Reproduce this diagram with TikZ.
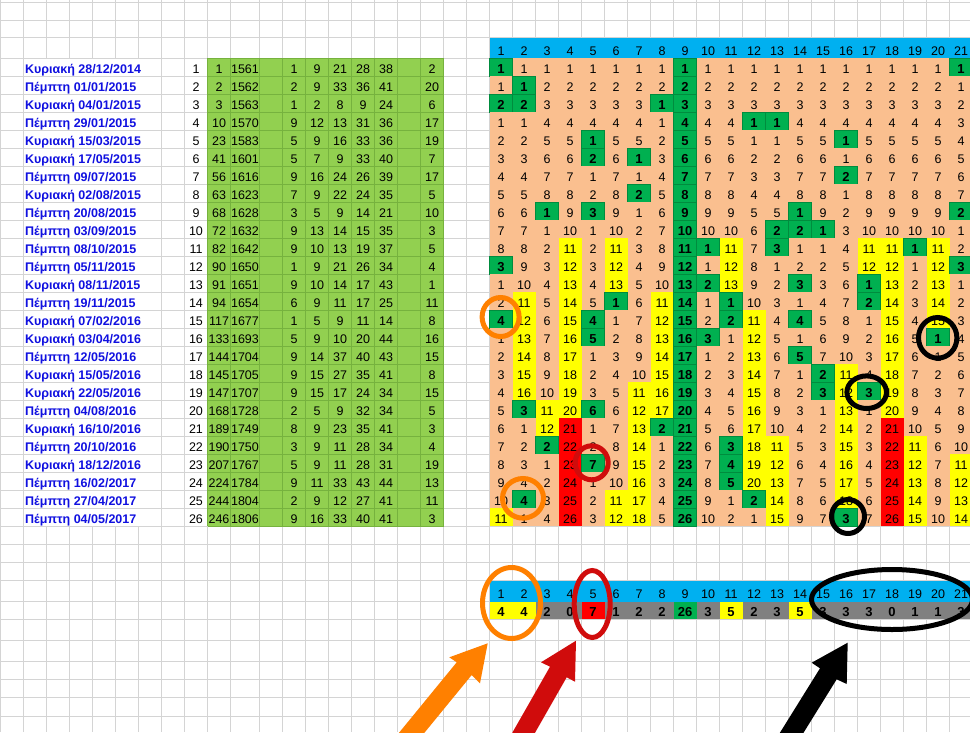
\documentclass[tikz,border=0pt]{standalone}
\usepackage{fontspec}
\setmainfont{Liberation Sans}
\makeatletter
\newcommand\IfInList[4]{\edef\chk@tmp{\noexpand\in@{,#1,}{,#2,}}\chk@tmp
  \ifin@\expandafter\@firstoftwo\else\expandafter\@secondoftwo\fi{#3}{#4}}
\makeatother
\newcommand\datestr[1]{\ifcase#1\or
Κυριακή 28/12/2014\or Πέμπτη 01/01/2015\or Κυριακή 04/01/2015\or
Πέμπτη 29/01/2015\or Κυριακή 15/03/2015\or Κυριακή 17/05/2015\or
Πέμπτη 09/07/2015\or Κυριακή 02/08/2015\or Πέμπτη 20/08/2015\or
Πέμπτη 03/09/2015\or Πέμπτη 08/10/2015\or Πέμπτη 05/11/2015\or
Κυριακή 08/11/2015\or Πέμπτη 19/11/2015\or Κυριακή 07/02/2016\or
Κυριακή 03/04/2016\or Πέμπτη 12/05/2016\or Κυριακή 15/05/2016\or
Κυριακή 22/05/2016\or Πέμπτη 04/08/2016\or Κυριακή 16/10/2016\or
Πέμπτη 20/10/2016\or Κυριακή 18/12/2016\or Πέμπτη 16/02/2017\or
Πέμπτη 27/04/2017\or Πέμπτη 04/05/2017\fi}
\definecolor{gridc}{RGB}{212,212,212}
\definecolor{lgreen}{RGB}{146,208,80}
\definecolor{lgreenline}{RGB}{118,178,62}
\definecolor{dgreen}{RGB}{0,176,80}
\definecolor{dgreenedge}{RGB}{0,140,62}
\definecolor{salmon}{RGB}{250,191,143}
\definecolor{hblue}{RGB}{0,176,240}
\definecolor{yel}{RGB}{255,255,0}
\definecolor{redc}{RGB}{255,0,0}
\definecolor{grayc}{RGB}{128,128,128}
\definecolor{datec}{RGB}{16,16,224}
\definecolor{orangec}{RGB}{255,128,0}
\definecolor{redmark}{RGB}{208,12,12}
\tikzset{
  num/.style={font=\fontsize{12.5}{14}\selectfont, inner sep=0pt, anchor=base},
  bnum/.style={font=\fontsize{13}{14}\selectfont\bfseries, inner sep=0pt, anchor=base},
  datestyle/.style={font=\fontsize{12.5}{14}\selectfont\bfseries, text=datec, inner sep=0pt, anchor=base west},
  gridline/.style={draw=gridc, line width=1pt},
  ring/.style={line width=5pt},
}
\begin{document}
\begin{tikzpicture}[x=1pt,y=-1pt]
\useasboundingbox (0,0) rectangle (970,732);
\clip (0,0) rectangle (970,732);
\fill[white] (0,0) rectangle (970,732);
% ---------- spreadsheet grid
\foreach \gx in {0.5,23.5,...,230.5}{\draw[gridline] (\gx,0) -- (\gx,732);}
\foreach \gx in {259.5,282.5,...,972.5}{\draw[gridline] (\gx,0) -- (\gx,732);}
\foreach \gy in {2,20,37.7,544.3,562.3,580.7,601.7,619.3,640.7,661.7,679.3,697.3,716}{\draw[gridline] (0,\gy) -- (970,\gy);}
\foreach \k in {0,...,26}{\draw[gridline] (0,58.3+18*\k) -- (970,58.3+18*\k);}
% date cells hide vertical grid lines
\foreach \k in {1,...,26}{\fill[white] (24,58.3+18*\k-17.5) rectangle (161,58.3+18*\k-0.5);}
% ---------- left green table
\fill[lgreen] (207.5,58.3) rectangle (443.5,526.3);
\foreach \gx in {207.5,230.5,259.5,282.5,305.5,328.5,351.5,374.5,397.5,420.5,443.5}{\draw[lgreenline, line width=1pt] (\gx,58.3) -- (\gx,526.3);}
\foreach \k in {0,...,26}{\draw[lgreenline, line width=1pt] (207.5,58.3+18*\k) -- (443.5,58.3+18*\k);}
% ---------- right table header
\fill[hblue] (489.5,37.7) rectangle (972,58.3);
\foreach \col in {1,...,21}{\node[num] (h\col) at (501+23*\col-23,55.5) {\col};}
% ---------- init counters
\foreach \col in {1,...,21}{\expandafter\xdef\csname hit\col\endcsname{0}\expandafter\xdef\csname last\col\endcsname{0}}
% ---------- rows
\foreach \rw/\ca/\cb/\na/\nb/\nc/\nd/\ne/\lastnum in {
1/1/1561/1/9/21/28/38/2,
2/2/1562/2/9/33/36/41/20,
3/3/1563/1/2/8/9/24/6,
4/10/1570/9/12/13/31/36/17,
5/23/1583/5/9/16/33/36/19,
6/41/1601/5/7/9/33/40/7,
7/56/1616/9/16/24/26/39/17,
8/63/1623/7/9/22/24/35/5,
9/68/1628/3/5/9/14/21/10,
10/72/1632/9/13/14/15/35/3,
11/82/1642/9/10/13/19/37/5,
12/90/1650/1/9/21/26/34/4,
13/91/1651/9/10/14/17/43/1,
14/94/1654/6/9/11/17/25/11,
15/117/1677/1/5/9/11/14/8,
16/133/1693/5/9/10/20/44/16,
17/144/1704/9/14/37/40/43/15,
18/145/1705/9/15/27/35/41/8,
19/147/1707/9/15/17/24/34/15,
20/168/1728/2/5/9/32/34/5,
21/189/1749/8/9/23/35/41/3,
22/190/1750/3/9/11/28/34/4,
23/207/1767/5/9/11/28/31/19,
24/224/1784/9/11/33/43/44/13,
25/244/1804/2/9/12/27/41/11,
26/246/1806/9/16/33/40/41/3}{
  \pgfmathsetmacro\yb{58.3+18*\rw}
  \pgfmathsetmacro\yt{\yb-18}
  \pgfmathsetmacro\ytxt{\yb-3.2}
  \node[datestyle] (d\rw) at (25,\ytxt) {\datestr{\rw}};
  \node[num] (n\rw) at (196,\ytxt) {\rw};
  \node[num] (a\rw) at (219,\ytxt) {\ca};
  \node[num] (b\rw) at (245,\ytxt) {\cb};
  \node[num] (p\rw) at (294,\ytxt) {\na};
  \node[num] (q\rw) at (317,\ytxt) {\nb};
  \node[num] (r\rw) at (340,\ytxt) {\nc};
  \node[num] (s\rw) at (363,\ytxt) {\nd};
  \node[num] (t\rw) at (386,\ytxt) {\ne};
  \node[num] (u\rw) at (432,\ytxt) {\lastnum};
  \edef\drawlist{\na,\nb,\nc,\nd,\ne}
  \foreach \col in {1,...,21}{
    \pgfmathsetmacro\xl{489.5+23*(\col-1)}
    \pgfmathsetmacro\xc{\xl+11.5}
    \IfInList{\col}{\drawlist}{%
      \edef\hv{\the\numexpr\csname hit\col\endcsname+1\relax}%
      \expandafter\xdef\csname hit\col\endcsname{\hv}%
      \expandafter\xdef\csname last\col\endcsname{\rw}%
      \filldraw[fill=dgreen,draw=dgreenedge,line width=0.6pt] (\xl,\yt) rectangle +(23,18);
      \node[bnum] (c\rw-\col) at (\xc,\ytxt) {\hv};
    }{%
      \edef\vv{\the\numexpr\rw-\csname last\col\endcsname\relax}%
      \ifnum\vv>20 \def\clr{redc}\else\ifnum\vv>10 \def\clr{yel}\else\def\clr{salmon}\fi\fi
      \fill[\clr] (\xl,\yt) rectangle +(23,18);
      \node[num] (c\rw-\col) at (\xc,\ytxt) {\vv};
    }
  }
}
% ---------- summary row
\fill[hblue] (489.5,580.7) rectangle (972,601.7);
\foreach \col/\clr in {1/yel,2/yel,3/grayc,4/grayc,5/redc,6/grayc,7/grayc,8/grayc,9/dgreen,10/grayc,11/yel,12/grayc,13/grayc,14/yel,15/grayc,16/grayc,17/grayc,18/grayc,19/grayc,20/grayc,21/grayc}{
  \pgfmathsetmacro\xl{489.5+23*(\col-1)}
  \pgfmathsetmacro\xc{\xl+11.5}
  \fill[\clr] (\xl,601.7) rectangle +(23,17.6);
  \node[num] (sh\col) at (\xc,598.5) {\col};
  \node[bnum] (sv\col) at (\xc,616) {\csname hit\col\endcsname};
}
% ---------- circles in the table
\draw[ring, orangec] (500.6,317) ellipse [x radius=18.5, y radius=19.5];
\draw[ring, orangec] (523,498.3) ellipse [x radius=20.5, y radius=19.8];
\draw[ring, redmark] (591.7,462.8) ellipse [x radius=16.5, y radius=17];
\draw[ring, black] (937.7,337.8) ellipse [x radius=19.2, y radius=20.3];
\draw[ring, black] (866.7,392.2) ellipse [x radius=19.8, y radius=16.3];
\draw[ring, black] (848,516.5) ellipse [x radius=16.5, y radius=17];
% ---------- circles around the summary
\draw[ring, orangec] (511.5,603) ellipse [x radius=29, y radius=35.5];
\draw[ring, redmark] (592.2,604) ellipse [x radius=18, y radius=33.5];
\draw[ring, black] (892,599.5) ellipse [x radius=80.5, y radius=30];
% ---------- block arrows
\fill[orangec] (487.7,643.3) -- (449.3,657.3) -- (456.7,662.3) -- (389,745) -- (414.4,745) -- (471.7,675) -- (480,683.3) -- cycle;
\fill[redmark] (576,640.7) -- (541,662.3) -- (550,666.7) -- (505.3,745) -- (528,745) -- (566.7,677.3) -- (575,681.7) -- cycle;
\fill[black] (847.7,642.7) -- (811.7,662.7) -- (820,668.3) -- (772.3,745) -- (795.9,745) -- (836.7,679.3) -- (846.7,684) -- cycle;
\end{tikzpicture}
\end{document}
